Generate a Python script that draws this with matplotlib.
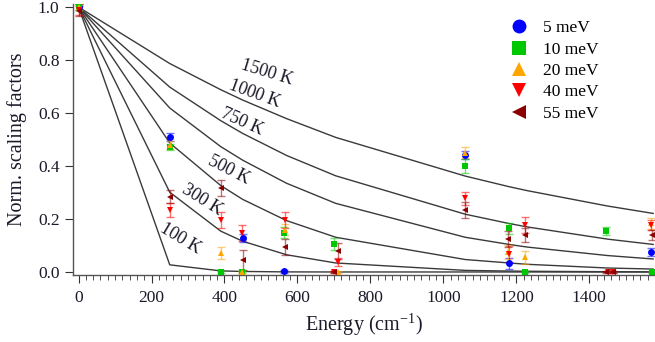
import matplotlib
matplotlib.use("Agg")
import matplotlib.pyplot as plt
from matplotlib.ticker import MultipleLocator

plt.rcParams['font.family'] = ['Liberation Serif', 'DejaVu Serif']

# theory curves (normalised population vs energy)
e_th = [0, 250, 390, 450, 570, 705, 1060, 1180, 1230, 1450, 1575]
t_100 = [1.0, 0.027, 0.004, 0.002, 0.0003, 0.0, 0.0, 0.0, 0.0, 0.0, 0.0]
t_300 = [1.0, 0.301, 0.154, 0.116, 0.065, 0.034, 0.006, 0.0035, 0.0027, 0.001, 0.0005]
t_500 = [1.0, 0.487, 0.326, 0.274, 0.194, 0.131, 0.047, 0.034, 0.029, 0.015, 0.011]
t_750 = [1.0, 0.619, 0.473, 0.422, 0.335, 0.259, 0.131, 0.104, 0.094, 0.062, 0.049]
t_1000 = [1.0, 0.698, 0.571, 0.523, 0.440, 0.363, 0.218, 0.183, 0.170, 0.124, 0.104]
t_1500 = [1.0, 0.787, 0.688, 0.649, 0.579, 0.508, 0.362, 0.322, 0.307, 0.249, 0.221]

# label text, (x, y), rotation
curve_labels = [("1500 K", 515, 0.752, -17), ("1000 K", 482, 0.672, -20),
                ("750 K", 449, 0.566, -24), ("500 K", 411, 0.385, -27),
                ("300 K", 340, 0.272, -32), ("100 K", 279, 0.125, -31)]

# measured points
e_5 = [0, 250, 450, 562, 1058, 1180, 1570]
y_5 = [1.0, 0.508, 0.128, 0.003, 0.44, 0.033, 0.077]
err_5 = [0.01, 0.015, 0.015, 0.005, 0.015, 0.02, 0.015]

e_10 = [0, 250, 390, 448, 562, 700, 1058, 1180, 1225, 1445, 1572]
y_10 = [1.0, 0.473, 0.0, 0.0, 0.148, 0.106, 0.40, 0.165, 0.0, 0.156, 0.0]
err_10 = [0.01, 0.012, 0.005, 0.005, 0.02, 0.022, 0.025, 0.02, 0.005, 0.015, 0.005]

e_20 = [0, 250, 390, 448, 565, 712, 1058, 1178, 1225, 1570]
y_20 = [1.0, 0.479, 0.072, 0.0, 0.16, 0.0, 0.45, 0.075, 0.055, 0.184]
err_20 = [0.01, 0.015, 0.023, 0.005, 0.02, 0.005, 0.02, 0.025, 0.025, 0.02]

e_40 = [0, 250, 390, 448, 565, 700, 710, 1058, 1180, 1225, 1450, 1466, 1570]
y_40 = [0.99, 0.234, 0.196, 0.147, 0.196, 0.0, 0.039, 0.278, 0.067, 0.177, 0.0, 0.0, 0.177]
err_40 = [0.02, 0.028, 0.03, 0.03, 0.03, 0.005, 0.015, 0.025, 0.03, 0.03, 0.005, 0.005, 0.02]

e_55 = [0, 250, 390, 450, 565, 700, 712, 1058, 1178, 1225, 1445, 1466, 1572]
y_55 = [0.985, 0.284, 0.316, 0.045, 0.093, 0.0, 0.079, 0.234, 0.125, 0.14, 0.0, 0.0, 0.14]
err_55 = [0.02, 0.024, 0.03, 0.038, 0.03, 0.005, 0.03, 0.03, 0.03, 0.025, 0.005, 0.005, 0.02]

series = [
    ("5 meV", e_5, y_5, err_5, "#0000ff", "o"),
    ("10 meV", e_10, y_10, err_10, "#00c800", "s"),
    ("20 meV", e_20, y_20, err_20, "#ffa500", "^"),
    ("40 meV", e_40, y_40, err_40, "#ff0000", "v"),
    ("55 meV", e_55, y_55, err_55, "#8b0000", "<"),
]

fig = plt.figure(figsize=(6.55, 3.42), dpi=100)
ax = fig.add_axes([0.111, 0.197, 0.889, 0.79])

for t in [t_100, t_300, t_500, t_750, t_1000, t_1500]:
    ax.plot(e_th, t, color="#3a3a3a", lw=1.0, zorder=2)

for txt, x, y, rot in curve_labels:
    ax.text(x, y, txt, rotation=rot, fontsize=13, ha="center", va="center",
            color="#1a1a2a", zorder=3)

handles = []
for name, e, y, err, c, m in series:
    ax.errorbar(e, y, yerr=err, fmt="none", ecolor=c, alpha=0.55,
                elinewidth=1.0, capsize=3, capthick=1.0, zorder=4)
    h, = ax.plot(e, y, ls="none", marker=m, color=c, ms=5, mew=0,
                 label=name, zorder=5, clip_on=False)
    handles.append(h)

ax.legend(handles=handles, loc="upper left", bbox_to_anchor=(0.725, 1.0),
          frameon=False, fontsize=12.5, markerscale=2.0, handletextpad=0.9,
          labelspacing=0.3, handlelength=1.0)

ax.set_xlim(-16, 1580)
ax.set_ylim(-0.01, 1.01)
ax.xaxis.set_major_locator(MultipleLocator(200))
ax.xaxis.set_minor_locator(MultipleLocator(20))
ax.yaxis.set_major_locator(MultipleLocator(0.2))
ax.yaxis.set_major_formatter(plt.FormatStrFormatter("%.1f"))

for s in ["top", "right"]:
    ax.spines[s].set_visible(False)
for s in ["left", "bottom"]:
    ax.spines[s].set_color("#555555")
    ax.spines[s].set_linewidth(1.0)

ax.tick_params(axis="both", which="major", direction="out", length=6,
               color="#333333", labelsize=12.5, labelcolor="#1a1a2a")
ax.tick_params(axis="x", which="minor", direction="out", length=3.5,
               color="#333333")
ax.tick_params(axis="x", which="major", pad=5)

ax.set_xlabel("Energy (cm$^{\\mathregular{-1}}$)", fontsize=14.5, color="#1a1a2a")
ax.set_ylabel("Norm. scaling factors", fontsize=14.5, color="#1a1a2a", labelpad=8)

fig.savefig("out.png", dpi=100)
